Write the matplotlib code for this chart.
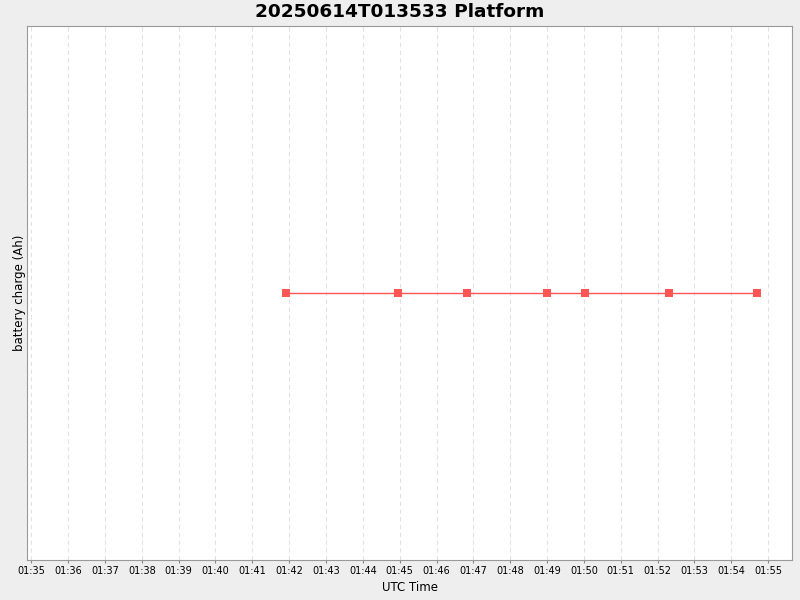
import matplotlib
matplotlib.use("Agg")
import matplotlib.pyplot as plt
import matplotlib.dates as mdates
import pandas as pd

# sample times (UTC) and battery charge values
times = ["2025-06-14 01:41:55", "2025-06-14 01:44:58", "2025-06-14 01:46:50",
         "2025-06-14 01:49:00", "2025-06-14 01:50:02", "2025-06-14 01:52:19",
         "2025-06-14 01:54:42"]
charge = [0.0, 0.0, 0.0, 0.0, 0.0, 0.0, 0.0]

t = pd.to_datetime(times)

fig = plt.figure(figsize=(8, 6), dpi=100, facecolor="#eeeeee")
ax = fig.add_axes([0.03375, 0.0667, 0.95625, 0.89])
ax.set_facecolor("white")

ax.plot(t, charge, color="#ff5555", linewidth=1, marker="s", markersize=6,
        markeredgewidth=0, zorder=3)

ax.set_xlim(pd.Timestamp("2025-06-14 01:34:53"), pd.Timestamp("2025-06-14 01:55:39"))
ax.set_ylim(-1, 1)
ax.xaxis.set_major_locator(mdates.MinuteLocator())
ax.xaxis.set_major_formatter(mdates.DateFormatter("%H:%M"))
ax.set_yticks([])
ax.tick_params(axis="x", labelsize=7, length=2, color="#888888", pad=2)
ax.grid(axis="x", color="#e2e2e2", linestyle=(0, (4, 3)), linewidth=0.8)
for s in ax.spines.values():
    s.set_color("#999999")

ax.set_xlabel("UTC Time", fontsize=8.5, labelpad=4)
ax.set_ylabel("battery charge (Ah)", fontsize=8.5, labelpad=1)
fig.suptitle("20250614T013533 Platform", fontsize=13.3, fontweight="bold", y=0.995)

fig.savefig("out.png", dpi=100, facecolor=fig.get_facecolor())
